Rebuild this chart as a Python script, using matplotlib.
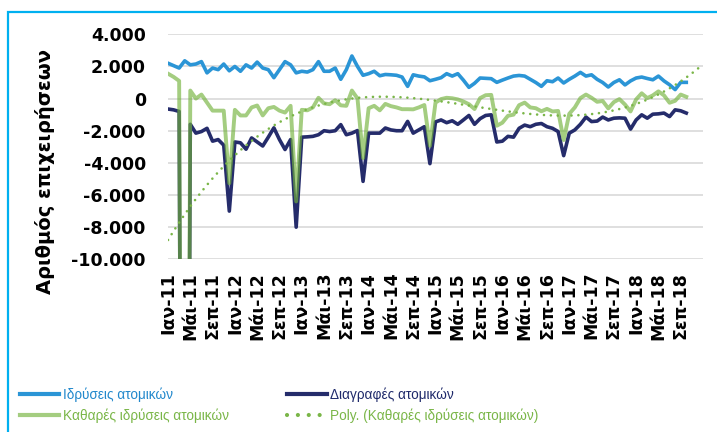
import matplotlib
matplotlib.use("Agg")
import matplotlib.pyplot as plt
import numpy as np
from matplotlib.ticker import FuncFormatter
from matplotlib.patches import Rectangle

# monthly data, Jan 2011 - Oct 2018
idryseis = [2200, 2050, 1900, 2350, 2100, 2150, 2300, 1600, 1900, 1800, 2150, 1730,
            2000, 1700, 2100, 1900, 2270, 1900, 1800, 1300, 1800, 2300, 2100, 1600,
            1700, 1650, 1800, 2300, 1700, 1700, 1900, 1200, 1800, 2650, 2000, 1450,
            1550, 1700, 1420, 1500, 1480, 1450, 1340, 760, 1480, 1400, 1350, 1110,
            1200, 1300, 1550, 1400, 1550, 1150, 700, 950, 1280, 1260, 1240, 1010,
            1150, 1280, 1400, 1440, 1400, 1200, 1000, 760, 1110, 1050, 1280, 970,
            1200, 1400, 1630, 1400, 1480, 1200, 1000, 720, 1000, 1170, 850, 1100,
            1280, 1340, 1250, 1170, 1400, 1100, 860, 560, 1010, 1010]

diagrafes = [-650, -700, -800, -76800, -1600, -2150, -2050, -1850, -2650, -2550, -2900, -7000,
             -2700, -2750, -3150, -2450, -2700, -2950, -2400, -1820, -2550, -3170, -2550, -8000,
             -2400, -2380, -2350, -2250, -2000, -2050, -2000, -1620, -2250, -2150, -1990, -5150,
             -2150, -2150, -2150, -1830, -1950, -2000, -2000, -1420, -2150, -1950, -1750, -4050,
             -1450, -1330, -1500, -1380, -1600, -1330, -1050, -1600, -1250, -1050, -1010, -2700,
             -2650, -2350, -2400, -1850, -1650, -1750, -1600, -1550, -1750, -1850, -2050, -3550,
             -2150, -1950, -1600, -1150, -1430, -1400, -1150, -1330, -1220, -1200, -1220, -1900,
             -1330, -1010, -1220, -970, -950, -900, -1120, -700, -760, -900]

kathares = [1550, 1350, 1100, -74450, 500, 0, 250, -250, -750, -750, -750, -5270,
            -700, -1050, -1050, -550, -430, -1050, -600, -520, -750, -870, -450, -6400,
            -700, -730, -550, 50, -300, -350, -100, -420, -450, 500, 10, -3700,
            -600, -450, -730, -330, -470, -550, -660, -660, -670, -550, -400, -2940,
            -250, -30, 50, 20, -50, -180, -350, -650, 30, 210, 230, -1690,
            -1500, -1070, -1000, -410, -250, -550, -600, -790, -640, -800, -770, -2580,
            -950, -550, 30, 250, 50, -200, -150, -610, -220, -30, -370, -800,
            -50, 330, 30, 200, 450, 200, -260, -140, 250, 110]

tick_labels = [f"{m}-{y}" for y in range(11, 19) for m in ("Ιαν", "Μάι", "Σεπ")]

x = np.arange(len(idryseis))

# excel style polynomial trendline (order 3), 3 periods forward
coef = np.polyfit(x, kathares, 3)
trend_x = np.arange(len(x) + 3)
trend = np.polyval(coef, trend_x)

W, H = 717, 432
fig = plt.figure(figsize=(W / 100, H / 100), dpi=100)
ax = fig.add_axes([168 / W, 1 - 259.3 / H, 535 / W, 225 / H])

l1, = ax.plot(x, idryseis, color="#2B95D6", lw=2.6, solid_joinstyle="round",
              label="Ιδρύσεις ατομικών")
l2, = ax.plot(x, diagrafes, color="#252C6B", lw=2.6, solid_joinstyle="round",
              label="Διαγραφές ατομικών")
l3, = ax.plot(x, kathares, color="#73B23C", alpha=0.65, lw=2.8, solid_joinstyle="round",
              label="Καθαρές ιδρύσεις ατομικών")
l4, = ax.plot(trend_x, trend, color="#7AB648", lw=1.9, linestyle=(0, (0.01, 2.6)),
              dash_capstyle="round", label="Poly. (Καθαρές ιδρύσεις ατομικών)")

ax.set_xlim(0, len(x) + 2)
ax.set_ylim(-10000, 4000)
ax.set_yticks(range(-10000, 4001, 2000))
ax.yaxis.set_major_formatter(FuncFormatter(lambda v, p: f"{int(v):,}".replace(",", ".")))
ax.set_xticks(x[::4])
ax.set_xticklabels(tick_labels, rotation=90)
ax.yaxis.grid(True, color="#D9D9D9", lw=1.2)
ax.set_axisbelow(True)
for s in ax.spines.values():
    s.set_visible(False)
ax.tick_params(axis="both", length=0, labelsize=12.5)
ax.tick_params(axis="y", pad=16)
ax.tick_params(axis="x", pad=9)
for t in ax.get_xticklabels() + ax.get_yticklabels():
    t.set_fontweight("bold")

fig.text(45 / W, 1 - 172 / H, "Αριθμός επιχειρήσεων", rotation=90, ha="center",
         va="center", fontsize=14, fontweight="bold")

leg = ax.legend(handles=[l1, l3, l2, l4], ncol=2, loc="upper left",
                bbox_to_anchor=(20 / W, 1 - 387 / H), bbox_transform=fig.transFigure,
                frameon=False, borderpad=0, borderaxespad=0, handlelength=2.9,
                handletextpad=0.25, labelspacing=0.5, columnspacing=4.3,
                prop={"family": ["Liberation Sans", "DejaVu Sans"], "size": 9.8})
for txt, c in zip(leg.get_texts(), ["#2188CC", "#7AB648", "#1F2A6B", "#7AB648"]):
    txt.set_color(c)
for h in leg.legend_handles:
    h.set_linewidth(3)

# outer frame of the original picture
fig.patches.append(Rectangle((8 / W, -0.1), 1.2, 1 - 12 / H + 0.1, transform=fig.transFigure,
                             fill=False, edgecolor="#00B0F0", lw=1.6))

fig.savefig("out.png", dpi=100)
